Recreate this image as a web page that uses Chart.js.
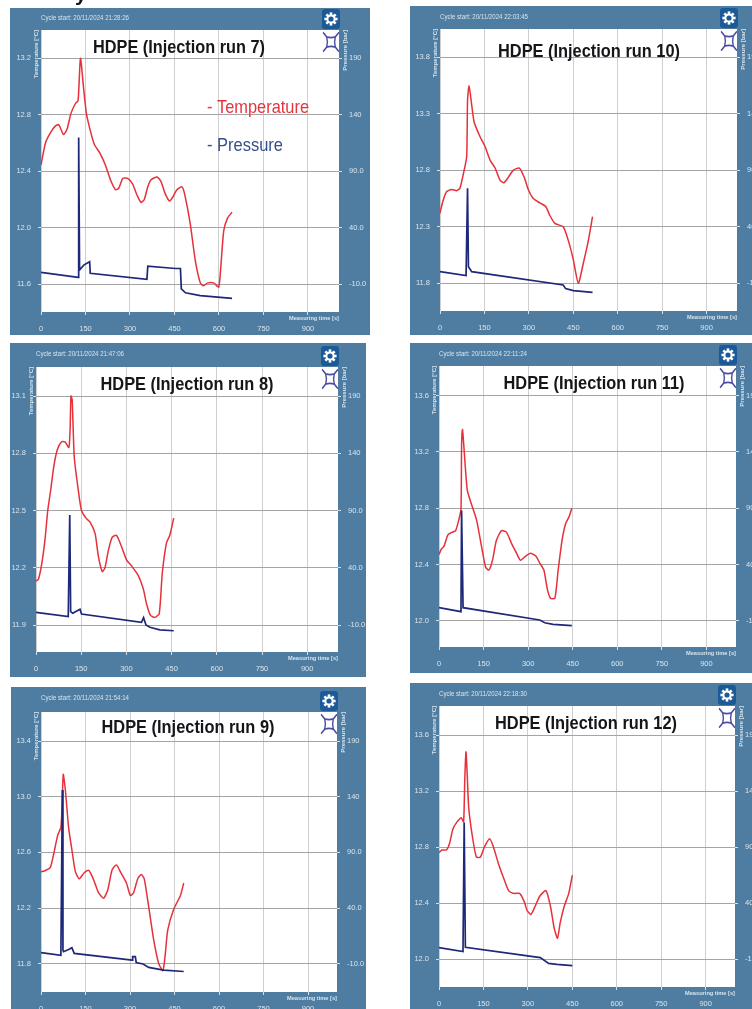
<!DOCTYPE html>
<html>
<head>
<meta charset="utf-8">
<title>HDPE injection runs</title>
<script src="https://cdn.jsdelivr.net/npm/chart.js@4"></script>
<style>
html,body{margin:0;padding:0;background:#fff;width:752px;height:1009px;overflow:hidden}
canvas{position:absolute;filter:blur(0.7px)}
#stray{position:absolute;left:75px;top:-18px;font:bold 21px 'Liberation Sans',sans-serif;color:#111;filter:blur(.5px)}
</style>
</head>
<body>
<div id="stray">y</div>
<script>
// ---------- tick labels ----------
const timeTicks = [0,150,300,450,600,750,900];
const pressureTicks = [-10,40,90,140,190];
const pressureTickLabels = ["-10.0","40.0","90.0","140","190"];
const tempTicks7  = [11.6,12.0,12.4,12.8,13.2];
const tempTicks8  = [11.9,12.2,12.5,12.8,13.1];
const tempTicks9  = [11.8,12.2,12.6,13.0,13.4];
const tempTicks10 = [11.8,12.3,12.8,13.3,13.8];
const tempTicks11 = [12.0,12.4,12.8,13.2,13.6];
const tempTicks12 = [12.0,12.4,12.8,13.2,13.6];

// ---------- run 7 ----------
const run7TempTime = [0,15,31,48,60,76,88,101,116,125,133,144,153,166,180,198,217,234,251,262,276,292,309,324,337,348,360,371,391,404,419,433,445,458,475,484,503,520,537,548,562,582,599,607,616,629,644];
const run7Temp = [12.445,12.60,12.67,12.72,12.73,12.66,12.70,12.81,12.88,12.90,13.20,12.98,12.81,12.69,12.59,12.53,12.445,12.34,12.27,12.28,12.35,12.35,12.31,12.23,12.18,12.20,12.29,12.34,12.36,12.33,12.24,12.19,12.22,12.27,12.29,12.24,12.03,11.77,11.61,11.59,11.61,11.61,11.58,11.75,11.98,12.07,12.11];
const run7PressTime = [0,125,127,130,144,164,166,357,360,453,470,473,487,537,644];
const run7Press = [0.6,-3.8,120,2.7,7,10,-0.3,-5.6,6,4,4,-14,-17.5,-20,-22.5];

// ---------- run 8 ----------
const run8TempTime = [0,8,19,30,39,49,60,71,85,96,109,113,116,120,127,140,151,166,179,196,207,220,229,240,253,267,284,301,317,339,356,367,380,395,409,419,433,444,457];
const run8Temp = [12.13,12.14,12.22,12.35,12.50,12.61,12.74,12.82,12.86,12.86,12.83,12.92,13.10,13.08,12.78,12.61,12.50,12.46,12.44,12.38,12.26,12.18,12.20,12.29,12.36,12.37,12.31,12.24,12.21,12.16,12.09,12.01,11.95,11.94,11.96,12.17,12.33,12.37,12.46];
const run8PressTime = [0,107,112,115,122,146,151,350,357,365,378,411,457];
const run8Press = [1.1,-2.7,86,1.7,0.2,3.7,-0.4,-7.7,-3.6,-10,-12,-14.3,-15];

// ---------- run 9 ----------
const run9TempTime = [0,15,31,43,56,67,71,75,82,93,104,116,129,144,161,178,194,211,225,239,254,270,288,301,312,326,338,348,363,380,397,411,419,427,447,470,481];
const run9Temp = [12.46,12.47,12.49,12.59,12.72,12.78,12.93,13.16,13.05,12.78,12.62,12.46,12.41,12.45,12.47,12.40,12.31,12.27,12.33,12.47,12.51,12.45,12.38,12.29,12.31,12.41,12.44,12.41,12.21,11.97,11.80,11.75,11.87,12.04,12.19,12.29,12.38];
const run9PressTime = [0,67,72,74,76,93,104,112,307,309,318,321,344,363,413,481];
const run9Press = [-0.1,-2.5,146,2.3,0.8,2.8,4.3,-0.7,-6.7,-3.7,-3.7,-9,-10.3,-13.3,-15.7,-17];

// ---------- run 10 ----------
const run10TempTime = [0,9,22,39,56,67,79,90,93,98,105,115,133,152,169,186,203,216,231,247,268,284,298,315,338,357,371,388,416,433,450,467,484,501,515];
const run10Temp = [12.42,12.52,12.61,12.63,12.62,12.64,12.77,12.92,13.42,13.55,13.42,13.23,13.11,13.01,12.89,12.82,12.71,12.69,12.74,12.80,12.82,12.74,12.63,12.55,12.51,12.48,12.40,12.33,12.30,12.18,12.01,11.80,11.98,12.18,12.39];
const run10PressTime = [0,88,93,96,107,416,424,450,515];
const run10Press = [0.3,-3.2,74,4.7,0.3,-11.5,-14.7,-16.5,-18];

// ---------- run 11 ----------
const run11TempTime = [0,8,17,30,45,56,67,74,76,79,83,95,109,126,143,157,168,180,193,210,227,244,261,274,292,308,326,339,353,364,375,390,401,414,426,438,447];
const run11Temp = [12.47,12.51,12.53,12.61,12.63,12.64,12.72,12.79,13.24,13.36,13.26,12.93,12.83,12.72,12.53,12.38,12.36,12.43,12.57,12.64,12.63,12.55,12.48,12.43,12.46,12.48,12.46,12.41,12.36,12.23,12.16,12.16,12.36,12.57,12.69,12.74,12.80];
const run11PressTime = [0,74,76,81,339,356,384,447];
const run11Press = [1.6,-2,88,1.6,-9.4,-11.8,-13.3,-14.4];

// ---------- run 12 ----------
const run12TempTime = [0,10,25,36,47,61,75,83,87,91,95,100,111,126,140,153,171,184,201,218,235,252,272,288,297,310,325,340,361,376,389,400,409,423,438,450];
const run12Temp = [12.76,12.78,12.78,12.83,12.93,12.98,13.01,12.98,13.28,13.48,13.33,13.09,12.90,12.73,12.73,12.80,12.86,12.80,12.68,12.58,12.49,12.47,12.47,12.41,12.35,12.32,12.38,12.45,12.49,12.38,12.22,12.15,12.26,12.38,12.47,12.60];
const run12PressTime = [0,81,85,89,342,370,398,450];
const run12Press = [0.4,-3.1,112,0.7,-8.5,-13.6,-14.5,-15.7];

// ---------- panel texts ----------
const titles = ["HDPE (Injection run 7)","HDPE (Injection run 8)","HDPE (Injection run 9)","HDPE (Injection run 10)","HDPE (Injection run 11)","HDPE (Injection run 12)"];
const cycleStarts = ["Cycle start: 20/11/2024 21:28:26","Cycle start: 20/11/2024 21:47:06","Cycle start: 20/11/2024 21:54:14","Cycle start: 20/11/2024 22:03:45","Cycle start: 20/11/2024 22:11:24","Cycle start: 20/11/2024 22:18:30"];

// ---------- layout (page pixels) ----------
const panels = [
 {i:0,o:[10,8,370,335],p:[41,30,339,312],g:[58.3,284.3],px150:44.5,tt:tempTicks7,tempT:run7TempTime,temp:run7Temp,presT:run7PressTime,pres:run7Press,tx:179,ty:48,tw:172,series:true},
 {i:1,o:[10,343,366,677],p:[36,367,338,652],g:[396,625],px150:45.2,tt:tempTicks8,tempT:run8TempTime,temp:run8Temp,presT:run8PressTime,pres:run8Press,tx:187,ty:385,tw:173},
 {i:2,o:[11,687,366,1016],p:[41,712,337,992],g:[741,963.7],px150:44.5,tt:tempTicks9,tempT:run9TempTime,temp:run9Temp,presT:run9PressTime,pres:run9Press,tx:188,ty:728,tw:173},
 {i:3,o:[410,6,770,335],p:[440,29,737,311],g:[57.3,283.3],px150:44.43,tt:tempTicks10,tempT:run10TempTime,temp:run10Temp,presT:run10PressTime,pres:run10Press,tx:589,ty:52,tw:182},
 {i:4,o:[410,343,770,673],p:[439,366,736,647],g:[395.7,620.7],px150:44.57,tt:tempTicks11,tempT:run11TempTime,temp:run11Temp,presT:run11PressTime,pres:run11Press,tx:594,ty:384,tw:181},
 {i:5,o:[410,683,770,1009],p:[439,706,735,987],g:[735,959.3],px150:44.44,tt:tempTicks12,tempT:run12TempTime,temp:run12Temp,presT:run12PressTime,pres:run12Press,tx:586,ty:724,tw:182}
];

const PANEL_BG = '#4f7da1';
const TICK_TXT = '#d6e4ee';
const SMALL = "6.5px 'Liberation Sans',sans-serif";
const SMALLB = "bold 6px 'Liberation Sans',sans-serif";
const NARROW = "'Liberation Sans Narrow','Liberation Sans',sans-serif";

function zip(xs,ys){ return xs.map((x,k)=>({x:x,y:ys[k]})); }
function axisRange(top,bot,P,G){
  const per=(G[1]-G[0])/(top-bot);
  return {max:top+(G[0]-P[1])/per, min:bot-(P[3]-G[1])/per};
}
function drawGear(c,cx,cy){
  c.save();c.fillStyle='#1c5a97';
  c.beginPath();c.roundRect(cx-9,cy-10,18,20,3);c.fill();
  c.translate(cx,cy);c.fillStyle='#fff';c.strokeStyle='#fff';c.lineWidth=2;
  for(let a=0;a<8;a++){c.save();c.rotate(a*Math.PI/4);c.fillRect(-1.3,-6.6,2.6,3);c.restore();}
  c.beginPath();c.arc(0,0,3.6,0,7);c.stroke();
  c.restore();
}
function drawCross(c,cx,cy){
  c.save();c.translate(cx,cy);c.scale(1.2,1.45);c.strokeStyle='#4a4ea3';c.lineWidth=1.2;
  c.beginPath();
  c.moveTo(-3.6,-3.6);c.quadraticCurveTo(0,-2.4,3.6,-3.6);c.quadraticCurveTo(2.4,0,3.6,3.6);
  c.quadraticCurveTo(0,2.4,-3.6,3.6);c.quadraticCurveTo(-2.4,0,-3.6,-3.6);
  c.moveTo(-3.6,-3.6);c.lineTo(-6.6,-6.6);c.moveTo(3.6,-3.6);c.lineTo(6.6,-6.6);
  c.moveTo(3.6,3.6);c.lineTo(6.6,6.6);c.moveTo(-3.6,3.6);c.lineTo(-6.6,6.6);
  c.stroke();c.restore();
}

const panelDecor = {
  id:'panelDecor',
  beforeDraw(chart,args,opts){
    const c=chart.ctx,a=chart.chartArea;
    c.save();
    c.fillStyle=PANEL_BG;c.fillRect(0,0,chart.width,chart.height);
    c.fillStyle='#fff';c.fillRect(a.left,a.top,a.right-a.left,a.bottom-a.top);
    c.restore();
  },
  afterDraw(chart,args,opts){
    const c=chart.ctx,a=chart.chartArea,d=opts.panel,ox=d.o[0],oy=d.o[1];
    c.save();
    c.textBaseline='middle';
    c.fillStyle=TICK_TXT;c.font=SMALL;c.textAlign='left';
    c.fillText(cycleStarts[d.i],a.left,oy===8?10:11,88);
    c.textAlign='right';c.font=SMALLB;
    c.fillText('Measuring time [s]',a.right,a.bottom+6,50);
    c.save();c.translate(a.left-5,a.top);c.rotate(-Math.PI/2);c.textAlign='right';
    c.fillText('Temperature [°C]',0,0,60);c.restore();
    c.save();c.translate(a.right+6,a.top);c.rotate(-Math.PI/2);c.textAlign='right';
    c.fillText('Pressure [bar]',0,0,48);c.restore();
    drawGear(c,a.right-8,a.top-11);
    drawCross(c,a.right-8,a.top+12);
    c.fillStyle='#15151a';c.textAlign='center';
    c.font="bold 19px "+NARROW;
    c.fillText(titles[d.i],d.tx-ox,d.ty-oy,d.tw);
    if(d.series){
      c.textAlign='left';c.font="19px "+NARROW;
      c.fillStyle='#e5343c';c.fillText('- Temperature',207-ox,108-oy,102);
      c.fillStyle='#34508c';c.fillText('- Pressure',207-ox,146-oy,76);
    }
    c.restore();
  }
};

panels.forEach(d=>{
  const cv=document.createElement('canvas');
  const W=d.o[2]-d.o[0],H=d.o[3]-d.o[1];
  cv.style.left=d.o[0]+'px';cv.style.top=d.o[1]+'px';
  cv.style.width=W+'px';cv.style.height=H+'px';
  cv.width=W;cv.height=H;
  document.body.appendChild(cv);
  const tr=axisRange(d.tt[4],d.tt[0],d.p,d.g);
  const pr=axisRange(pressureTicks[4],pressureTicks[0],d.p,d.g);
  const tickOpts={color:TICK_TXT,font:{family:"'Liberation Sans',sans-serif",size:7.5}};
  new Chart(cv.getContext('2d'),{
    type:'line',
    data:{datasets:[
      {label:'Pressure',yAxisID:'y1',data:zip(d.presT,d.pres),borderColor:'#1d2878',borderWidth:1.7,pointRadius:0,tension:0,fill:false},
      {label:'Temperature',yAxisID:'y',data:zip(d.tempT,d.temp),borderColor:'#e6303a',borderWidth:1.5,pointRadius:0,tension:0.2,fill:false}
    ]},
    plugins:[panelDecor],
    options:{
      responsive:false,animation:false,devicePixelRatio:1,
      layout:{padding:{top:d.p[1]-d.o[1],left:0,right:0,bottom:0}},
      plugins:{legend:{display:false},tooltip:{enabled:false},title:{display:false},panelDecor:{panel:d}},
      scales:{
        x:{type:'linear',min:0,max:(d.p[2]-d.p[0])/d.px150*150,
          afterFit(s){s.height=d.o[3]-d.p[3];},
          afterBuildTicks(s){s.ticks=timeTicks.map(v=>({value:v}));},
          border:{display:false},
          grid:{color:'#cfcfcf',lineWidth:1,tickColor:'#d5e2ec',tickLength:3},
          ticks:Object.assign({padding:9,maxRotation:0,autoSkip:false},tickOpts)},
        y:{position:'left',min:tr.min,max:tr.max,
          afterFit(s){s.width=d.p[0]-d.o[0];},
          afterBuildTicks(s){s.ticks=d.tt.map(v=>({value:v}));},
          border:{display:false},
          grid:{color:'#a4a4a4',lineWidth:1,tickColor:'#d5e2ec',tickLength:3},
          ticks:Object.assign({padding:7,autoSkip:false,callback:v=>v.toFixed(1)},tickOpts)},
        y1:{position:'right',min:pr.min,max:pr.max,
          afterFit(s){s.width=d.o[2]-d.p[2];},
          afterBuildTicks(s){s.ticks=pressureTicks.map(v=>({value:v}));},
          border:{display:false},
          grid:{drawOnChartArea:false,tickColor:'#d5e2ec',tickLength:3},
          ticks:Object.assign({padding:7,autoSkip:false,callback:v=>pressureTickLabels[pressureTicks.indexOf(v)]},tickOpts)}
      }
    }
  });
});
</script>
</body>
</html>
